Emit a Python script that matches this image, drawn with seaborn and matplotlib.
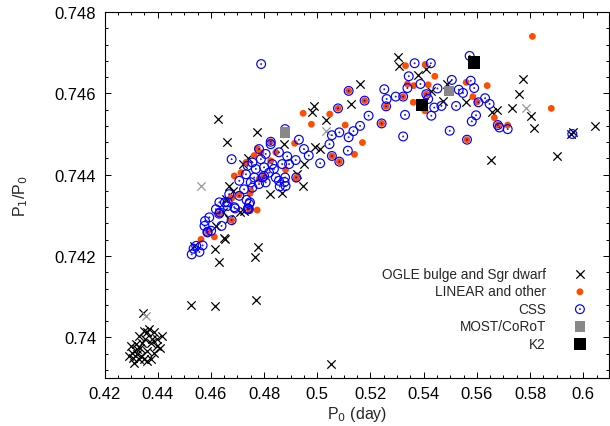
import numpy as np
import matplotlib
matplotlib.use("Agg")
import matplotlib.pyplot as plt
from matplotlib.path import Path
from matplotlib.ticker import MultipleLocator
import seaborn as sns

# ---------------- data ----------------
ogle_x = [0.4347, 0.4366, 0.4385, 0.4416, 0.4329, 0.4354, 0.4373, 0.4397, 0.4317, 0.4298,
          0.4335, 0.4360, 0.4385, 0.4410, 0.4304, 0.4323, 0.4348, 0.4373, 0.4310, 0.4292,
          0.4329, 0.4360, 0.4379, 0.4341, 0.4323, 0.4308, 0.4358, 0.4338, 0.4397,
          0.4345, 0.4525, 0.4616, 0.4769, 0.5052, 0.4616, 0.4632, 0.4778, 0.4765, 0.4653,
          0.4709, 0.4821, 0.4867, 0.4946, 0.4625, 0.4773, 0.4661, 0.4987, 0.4981, 0.5031,
          0.4875, 0.4991, 0.5011, 0.4950, 0.4925, 0.4738, 0.4719, 0.4669, 0.4682, 0.4657,
          0.4725, 0.4644, 0.4669, 0.4619, 0.4650, 0.4538, 0.5305, 0.5308, 0.5161, 0.5126,
          0.5379, 0.5410, 0.5429, 0.5473, 0.5489, 0.5560, 0.5772, 0.5760, 0.5731, 0.5676,
          0.5657, 0.5803, 0.5816, 0.5963, 0.5953, 0.6046, 0.5900, 0.5654]
ogle_y = [0.74016, 0.74020, 0.74012, 0.74003, 0.74003, 0.73997, 0.73987, 0.73979, 0.73983, 0.73979,
          0.73975, 0.73966, 0.73962, 0.73975, 0.73962, 0.73958, 0.73946, 0.73946, 0.73938, 0.73954,
          0.73946, 0.74012, 0.73997, 0.73987, 0.73971, 0.73950, 0.73942, 0.73954, 0.73995,
          0.74059, 0.74079, 0.74077, 0.74092, 0.73935, 0.74216, 0.74186, 0.74223, 0.74198, 0.74243,
          0.74308, 0.74352, 0.74355, 0.74373, 0.74537, 0.74506, 0.74481, 0.74569, 0.74555, 0.74535,
          0.74475, 0.74467, 0.74463, 0.74426, 0.74401, 0.74440, 0.74426, 0.74372, 0.74360, 0.74340,
          0.74311, 0.74307, 0.74290, 0.74274, 0.74245, 0.74225, 0.74690, 0.74668, 0.74623, 0.74575,
          0.74644, 0.74660, 0.74606, 0.74582, 0.74623, 0.74579, 0.74635, 0.74598, 0.74565, 0.74560,
          0.74553, 0.74545, 0.74515, 0.74505, 0.74500, 0.74519, 0.74446, 0.74436]

ogle_grey_x = [0.4562, 0.4356, 0.5033, 0.5784]
ogle_grey_y = [0.74371, 0.74052, 0.74508, 0.74563]

linear_x = [0.4563, 0.4613, 0.4588, 0.4631, 0.4678, 0.4678, 0.4706, 0.4747, 0.4774, 0.4743,
            0.4920, 0.4947, 0.4978, 0.4915, 0.4775, 0.4788, 0.4825, 0.4732, 0.4688, 0.4713,
            0.4881, 0.4921, 0.4750, 0.4675, 0.4800, 0.4781, 0.4825, 0.4763, 0.4844, 0.5118,
            0.5178, 0.5078, 0.5055, 0.5083, 0.5259, 0.5242, 0.5323, 0.5410, 0.5332, 0.5406,
            0.5442, 0.5339, 0.5363, 0.5417, 0.5361, 0.5405, 0.5560, 0.5047, 0.5105, 0.5170,
            0.5140, 0.5809, 0.5639, 0.5585, 0.5666, 0.5716, 0.5880, 0.5601, 0.5679, 0.5563]
linear_y = [0.74241, 0.74247, 0.74260, 0.74304, 0.74288, 0.74342, 0.74350, 0.74354, 0.74313, 0.74315,
            0.74389, 0.74551, 0.74524, 0.74477, 0.74464, 0.74454, 0.74481, 0.74430, 0.74397, 0.74405,
            0.74412, 0.74393, 0.74360, 0.74344, 0.74397, 0.74389, 0.74434, 0.74447, 0.74455, 0.74606,
            0.74582, 0.74563, 0.74446, 0.74432, 0.74568, 0.74526, 0.74592, 0.74598, 0.74668, 0.74671,
            0.74642, 0.74623, 0.74619, 0.74621, 0.74578, 0.74557, 0.74627, 0.74549, 0.74522, 0.74479,
            0.74450, 0.74740, 0.74619, 0.74592, 0.74540, 0.74522, 0.74563, 0.74579, 0.74522, 0.74486]

css_x = [0.4528, 0.4557, 0.4535, 0.4569, 0.4587, 0.4578, 0.4594, 0.4640, 0.4634, 0.4662,
         0.4691, 0.4653, 0.4669, 0.4734, 0.4747, 0.4740, 0.4859, 0.4877, 0.4588, 0.4631,
         0.4678, 0.4743, 0.4879, 0.4931, 0.4968, 0.5011, 0.4950, 0.4678, 0.4825, 0.4856,
         0.4887, 0.4919, 0.4894, 0.4879, 0.4856, 0.4781, 0.4806, 0.4788, 0.4756, 0.4738,
         0.4769, 0.4800, 0.4831, 0.4819, 0.4794, 0.4763, 0.4732, 0.4750, 0.4781, 0.4806,
         0.4844, 0.4837, 0.4707, 0.4725, 0.4756, 0.4707, 0.4663, 0.4688, 0.4744, 0.4738,
         0.4632, 0.4619, 0.4576, 0.4601, 0.4545, 0.4868, 0.4881, 0.4921, 0.4800, 0.4825,
         0.5118, 0.5178, 0.5078, 0.5193, 0.5161, 0.5136, 0.5118, 0.5083, 0.5055, 0.5046,
         0.5115, 0.5055, 0.5083, 0.5252, 0.5261, 0.5259, 0.5242, 0.5295, 0.5323, 0.5330,
         0.5323, 0.5339, 0.5344, 0.5366, 0.5427, 0.5388, 0.5410, 0.5417, 0.5452, 0.5440,
         0.5429, 0.5467, 0.5506, 0.5522, 0.5532, 0.5548, 0.5498, 0.5573, 0.5563, 0.5577,
         0.5590, 0.5606, 0.5631, 0.5648, 0.5597, 0.5581, 0.5679, 0.5685, 0.5716, 0.5959,
         0.4789]
css_y = [0.74204, 0.74210, 0.74218, 0.74226, 0.74258, 0.74286, 0.74295, 0.74274, 0.74307, 0.74323,
         0.74317, 0.74332, 0.74352, 0.74338, 0.74332, 0.74317, 0.74371, 0.74382, 0.74260, 0.74304,
         0.74288, 0.74315, 0.74512, 0.74486, 0.74447, 0.74428, 0.74463, 0.74438, 0.74475, 0.74455,
         0.74445, 0.74436, 0.74426, 0.74393, 0.74385, 0.74463, 0.74451, 0.74438, 0.74430, 0.74422,
         0.74414, 0.74418, 0.74426, 0.74405, 0.74393, 0.74393, 0.74401, 0.74381, 0.74377, 0.74381,
         0.74393, 0.74414, 0.74385, 0.74364, 0.74368, 0.74348, 0.74332, 0.74320, 0.74328, 0.74315,
         0.74332, 0.74315, 0.74274, 0.74262, 0.74225, 0.74426, 0.74372, 0.74393, 0.74397, 0.74481,
         0.74606, 0.74582, 0.74563, 0.74545, 0.74520, 0.74507, 0.74492, 0.74504, 0.74497, 0.74475,
         0.74459, 0.74446, 0.74432, 0.74610, 0.74586, 0.74568, 0.74526, 0.74592, 0.74592, 0.74547,
         0.74494, 0.74613, 0.74642, 0.74674, 0.74674, 0.74623, 0.74598, 0.74586, 0.74612, 0.74565,
         0.74545, 0.74569, 0.74633, 0.74569, 0.74609, 0.74601, 0.74508, 0.74692, 0.74486, 0.74631,
         0.74613, 0.74578, 0.74588, 0.74574, 0.74546, 0.74531, 0.74522, 0.74516, 0.74512, 0.74500,
         0.74672]

most_x = [0.4879, 0.5495]
most_y = [0.74504, 0.74605]

k2_x = [0.5394, 0.5589]
k2_y = [0.74572, 0.74676]

labels = ["OGLE bulge and Sgr dwarf", "LINEAR and other", "CSS", "MOST/CoRoT", "K2"]
xticks = [0.42, 0.44, 0.46, 0.48, 0.50, 0.52, 0.54, 0.56, 0.58, 0.60]
xtick_labels = ["0.42", "0.44", "0.46", "0.48", "0.5", "0.52", "0.54", "0.56", "0.58", "0.6"]
yticks = [0.740, 0.742, 0.744, 0.746, 0.748]
ytick_labels = ["0.74", "0.742", "0.744", "0.746", "0.748"]

# ---------------- style ----------------
sns.set_style("ticks")
plt.rcParams["font.family"] = ["Liberation Sans", "DejaVu Sans"]
plt.rcParams["axes.linewidth"] = 0.8

fig = plt.figure(figsize=(6.10, 4.27), dpi=100)
ax = fig.add_axes([104.5 / 610, 1 - 379 / 427, (609 - 104.5) / 610, (379 - 13) / 427])

# circle-with-dot marker for CSS
circ_dot = Path.make_compound_path(Path.unit_circle(), Path.circle((0, 0), 0.08))

sns.scatterplot(x=ogle_x, y=ogle_y, marker="x", color="black", s=36, linewidth=0.9,
                label=labels[0], ax=ax, zorder=2)
sns.scatterplot(x=ogle_grey_x, y=ogle_grey_y, marker="x", color="#999999", s=36,
                linewidth=0.9, label="_nolegend_", ax=ax, zorder=2)
sns.scatterplot(x=linear_x, y=linear_y, marker="o", color="#ff4d00", edgecolor="none",
                s=24, linewidth=0, label=labels[1], ax=ax, zorder=3)
sns.scatterplot(x=css_x, y=css_y, marker=circ_dot, color="#0000ff", facecolor="none",
                edgecolor="#0000ff", s=40, linewidth=0.85, label=labels[2], ax=ax, zorder=4)
sns.scatterplot(x=most_x, y=most_y, marker="s", color="#888888", edgecolor="none",
                s=55, linewidth=0, label=labels[3], ax=ax, zorder=5)
sns.scatterplot(x=k2_x, y=k2_y, marker="s", color="black", edgecolor="none",
                s=80, linewidth=0, label=labels[4], ax=ax, zorder=6)

ax.set_xlim(0.42, 0.6097)
ax.set_ylim(0.739, 0.748)
ax.set_xticks(xticks, xtick_labels)
ax.set_yticks(yticks, ytick_labels)
ax.xaxis.set_minor_locator(MultipleLocator(0.005))
ax.yaxis.set_minor_locator(MultipleLocator(0.0004))
ax.tick_params(which="both", direction="in", top=True, right=True, width=0.7,
               labelsize=12, colors="black")
ax.tick_params(which="major", length=4, pad=6)
ax.tick_params(which="minor", length=2)
for sp in ax.spines.values():
    sp.set_visible(True)
    sp.set_color("black")

ax.set_xlabel("P$_0$ (day)", fontsize=11.5, labelpad=2)
ax.set_ylabel("P$_1$/P$_0$", fontsize=11.5, labelpad=18)

leg = ax.legend(loc="lower right", bbox_to_anchor=(0.970, 0.075), frameon=False,
                markerfirst=False, fontsize=9.8, handlelength=2.05, handletextpad=1.48,
                labelspacing=0.25, borderpad=0, borderaxespad=0)

fig.savefig("out.png", dpi=100)
